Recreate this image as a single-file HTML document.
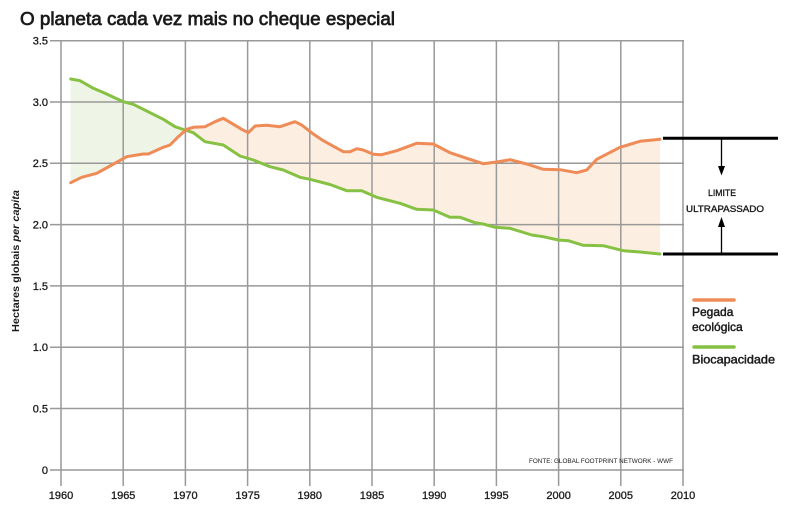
<!DOCTYPE html>
<html>
<head>
<meta charset="utf-8">
<style>
html,body{margin:0;padding:0;background:#fff;}
svg{display:block;}
text{font-family:"Liberation Sans",sans-serif;fill:#1a1a1a;}
</style>
</head>
<body>
<svg width="785" height="509" viewBox="0 0 785 509" xmlns="http://www.w3.org/2000/svg">
<rect width="785" height="509" fill="#fff"/>
<!-- title -->
<text x="20" y="25" font-size="18.5" textLength="375" lengthAdjust="spacingAndGlyphs" stroke="#1a1a1a" stroke-width="0.7">O planeta cada vez mais no cheque especial</text>

<!-- fills -->
<polygon fill="#eff5e6" points="70.7,79 80,80.7 93.3,88.3 105,93.3 123.3,101.7 133.3,104.3 146.7,111 163.3,119.3 175,126.7 185,130 186.5,129.5 178.3,136.7 170,145 163.3,147.3 148.3,154 143.3,154 126.7,156.7 110,166 96.7,173.3 81.7,177.3 70.7,182.7"/>
<polygon fill="#fdeee2" points="186.5,129.5 193.3,127.3 205,126.7 215,121.7 223.3,118.3 231.7,123.3 241.7,129.3 248.3,132.7 255,126 266.7,125.3 280,126.7 295,121.7 301.7,125 313.3,134 323.3,140.7 343.3,151.7 350,151.7 356.7,148.7 363.3,150 373.3,154.3 381.7,154.7 396.7,150.7 416.7,143.3 433.3,144 450,152.7 466.7,158.3 483.3,163.7 496.7,162 510,159.7 526.7,164 543.3,169.3 560,169.7 576.7,172.7 586.7,170 596.7,159.3 620,147.3 640,141.3 660,139.3 660,254 640,252 623.3,250.7 603.3,245.7 583.3,245.3 568.3,240.7 558.3,240 543.3,236.7 531.7,235 510,228.3 495,227.3 483.3,224 475,222.7 460,217.3 450,217.3 433.3,210 416.7,209.3 400,203.3 376.7,197.3 361.7,190.7 346.7,190.7 330,184.5 310,179.3 300,177.3 283.3,170 270,166.7 253.3,160 240,156 223.3,145 205,141.7 193.3,132.7"/>

<!-- grid -->
<g stroke="#999" stroke-width="1.5" fill="none">
  <line x1="50" y1="40.7" x2="684" y2="40.7"/>
  <line x1="50" y1="102" x2="684" y2="102"/>
  <line x1="50" y1="163.3" x2="684" y2="163.3"/>
  <line x1="50" y1="224.6" x2="684" y2="224.6"/>
  <line x1="50" y1="285.9" x2="684" y2="285.9"/>
  <line x1="50" y1="347.2" x2="684" y2="347.2"/>
  <line x1="50" y1="408.5" x2="684" y2="408.5"/>
  <line x1="50" y1="470" x2="684" y2="470"/>
  <line x1="61" y1="40" x2="61" y2="486"/>
  <line x1="123.2" y1="40" x2="123.2" y2="486"/>
  <line x1="185.4" y1="40" x2="185.4" y2="486"/>
  <line x1="247.6" y1="40" x2="247.6" y2="486"/>
  <line x1="309.8" y1="40" x2="309.8" y2="486"/>
  <line x1="372" y1="40" x2="372" y2="486"/>
  <line x1="434.2" y1="40" x2="434.2" y2="486"/>
  <line x1="496.4" y1="40" x2="496.4" y2="486"/>
  <line x1="558.6" y1="40" x2="558.6" y2="486"/>
  <line x1="620.8" y1="40" x2="620.8" y2="486"/>
  <line x1="683" y1="40" x2="683" y2="486"/>
</g>

<!-- series -->
<polyline fill="none" stroke="#86c143" stroke-width="3" stroke-linejoin="round" stroke-linecap="round" points="70.7,79 80,80.7 93.3,88.3 105,93.3 123.3,101.7 133.3,104.3 146.7,111 163.3,119.3 175,126.7 185,130 193.3,132.7 205,141.7 223.3,145 240,156 253.3,160 270,166.7 283.3,170 300,177.3 310,179.3 330,184.5 346.7,190.7 361.7,190.7 376.7,197.3 400,203.3 416.7,209.3 433.3,210 450,217.3 460,217.3 475,222.7 483.3,224 495,227.3 510,228.3 531.7,235 543.3,236.7 558.3,240 568.3,240.7 583.3,245.3 603.3,245.7 623.3,250.7 640,252 660,254"/>
<polyline fill="none" stroke="#ee8b56" stroke-width="3" stroke-linejoin="round" stroke-linecap="round" points="70.7,182.7 81.7,177.3 96.7,173.3 110,166 126.7,156.7 143.3,154 148.3,154 163.3,147.3 170,145 178.3,136.7 186.7,129.3 193.3,127.3 205,126.7 215,121.7 223.3,118.3 231.7,123.3 241.7,129.3 248.3,132.7 255,126 266.7,125.3 280,126.7 295,121.7 301.7,125 313.3,134 323.3,140.7 343.3,151.7 350,151.7 356.7,148.7 363.3,150 373.3,154.3 381.7,154.7 396.7,150.7 416.7,143.3 433.3,144 450,152.7 466.7,158.3 483.3,163.7 496.7,162 510,159.7 526.7,164 543.3,169.3 560,169.7 576.7,172.7 586.7,170 596.7,159.3 620,147.3 640,141.3 660,139.3"/>

<!-- y labels -->
<g font-size="11" text-anchor="end" stroke="#1a1a1a" stroke-width="0.3">
  <text x="48" y="44.5">3.5</text>
  <text x="48" y="106">3.0</text>
  <text x="48" y="167">2.5</text>
  <text x="48" y="228.5">2.0</text>
  <text x="48" y="290">1.5</text>
  <text x="48" y="351">1.0</text>
  <text x="48" y="412.5">0.5</text>
  <text x="48" y="474">0</text>
</g>
<text transform="translate(19,261) rotate(-90)" font-size="10" font-weight="bold" text-anchor="middle" textLength="142" lengthAdjust="spacingAndGlyphs">Hectares globais <tspan font-style="italic">per capita</tspan></text>

<!-- x labels -->
<g font-size="11" text-anchor="middle" stroke="#1a1a1a" stroke-width="0.3">
  <text x="61" y="499">1960</text>
  <text x="123.2" y="499">1965</text>
  <text x="185.4" y="499">1970</text>
  <text x="247.6" y="499">1975</text>
  <text x="309.8" y="499">1980</text>
  <text x="372" y="499">1985</text>
  <text x="434.2" y="499">1990</text>
  <text x="496.4" y="499">1995</text>
  <text x="558.6" y="499">2000</text>
  <text x="620.8" y="499">2005</text>
  <text x="683" y="499">2010</text>
</g>

<text x="529" y="463" font-size="6.3" textLength="144" lengthAdjust="spacingAndGlyphs" fill="#333">FONTE: GLOBAL FOOTPRINT NETWORK - WWF</text>

<!-- annotation -->
<g stroke="#000">
  <line x1="663" y1="138.3" x2="778" y2="138.3" stroke-width="3"/>
  <line x1="663" y1="254" x2="778" y2="254" stroke-width="3"/>
  <line x1="721.5" y1="139" x2="721.5" y2="168" stroke-width="1.3"/>
  <line x1="721.5" y1="225" x2="721.5" y2="253" stroke-width="1.3"/>
</g>
<polygon points="718,166 725,166 721.5,175.5" fill="#000"/>
<polygon points="718,227 725,227 721.5,217" fill="#000"/>
<g font-size="9.5" text-anchor="middle" stroke="#1a1a1a" stroke-width="0.35">
  <text x="722" y="196" textLength="28" lengthAdjust="spacingAndGlyphs">LIMITE</text>
  <text x="725" y="212" textLength="78" lengthAdjust="spacingAndGlyphs">ULTRAPASSADO</text>
</g>

<!-- legend -->
<line x1="694" y1="300" x2="734" y2="300" stroke="#ee8b56" stroke-width="3.5" stroke-linecap="round"/>
<line x1="694" y1="347" x2="734" y2="347" stroke="#86c143" stroke-width="3.5" stroke-linecap="round"/>
<g font-size="12" stroke="#1a1a1a" stroke-width="0.45">
  <text x="692" y="316">Pegada</text>
  <text x="692" y="331">ecológica</text>
  <text x="692" y="363.5" textLength="83" lengthAdjust="spacingAndGlyphs">Biocapacidade</text>
</g>
</svg>
</body>
</html>
